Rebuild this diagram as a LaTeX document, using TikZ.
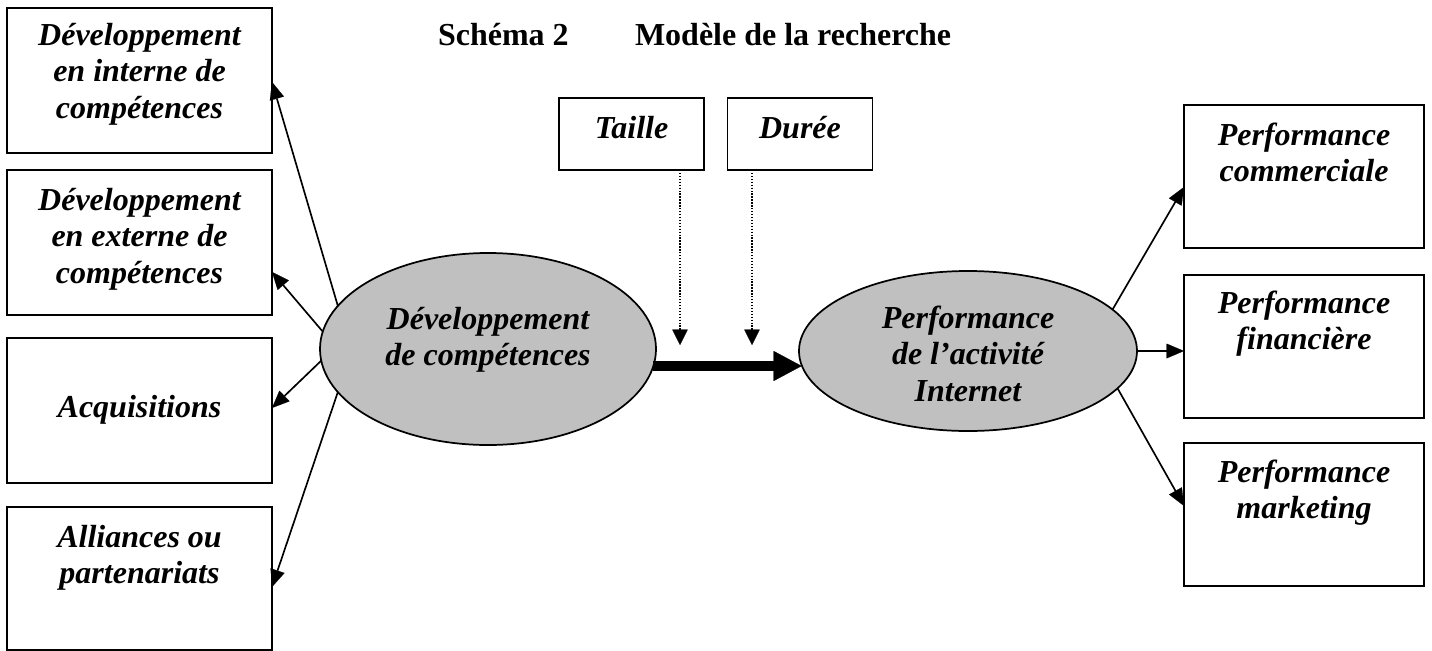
\documentclass[tikz,border=0pt]{standalone}
\usepackage{fontspec}
\setmainfont{Liberation Serif}
\usetikzlibrary{arrows.meta,shapes.geometric}
\definecolor{ellgray}{RGB}{192,192,192}
\newcommand{\mlines}[1]{\begin{tabular}[t]{@{}c@{}}#1\end{tabular}}
\begin{document}
\begin{tikzpicture}[x=0.75pt,y=-0.75pt,
  bx/.style={draw, line width=1.4pt, inner sep=0pt, outer sep=0pt},
  ell/.style={ellipse, draw, fill=ellgray, line width=1.3pt, inner sep=0pt, outer sep=0pt},
  txt/.style={anchor=base, inner sep=0pt, outer sep=0pt, font=\fontsize{24}{27.4}\selectfont\bfseries\itshape},
  ttl/.style={anchor=base west, inner sep=0pt, outer sep=0pt, font=\fontsize{24}{27.4}\selectfont\bfseries},
  arr/.style={line width=1.25pt, -{Triangle[length=13pt,width=11pt,line width=0.1pt]}},
  dotarr/.style={line width=1.1pt, dash pattern=on 1pt off 1.2pt, -{Triangle[length=11.5pt,width=11.5pt,line width=0.1pt]}},
  bigarr/.style={line width=7.5pt, -{Triangle[length=21pt,width=22.5pt,line width=0.1pt]}}
]
\useasboundingbox (0,0) rectangle (1432,650);

% title
\node[ttl] (t1) at (438,45) {Schéma 2};
\node[ttl] (t2) at (635,45) {Modèle de la recherche};

% left boxes
\node[bx, minimum width=198.75pt, minimum height=108.75pt] (b1) at (139.5,80.5) {};
\node[bx, minimum width=198.75pt, minimum height=108.75pt] (b2) at (139.5,242.5) {};
\node[bx, minimum width=198.75pt, minimum height=108.75pt] (b3) at (139.5,410.5) {};
\node[bx, minimum width=198.75pt, minimum height=107.25pt] (b4) at (139.5,578.5) {};
\node[txt] (b1t) at (139.5,45) {\mlines{Développement\\en interne de\\compétences}};
\node[txt] (b2t) at (139.5,210) {\mlines{Développement\\en externe de\\compétences}};
\node[txt] (b3t) at (139.5,417) {Acquisitions};
\node[txt] (b4t) at (139.5,547) {\mlines{Alliances ou\\partenariats}};

% top boxes
\node[bx, minimum width=108.75pt, minimum height=54pt] (ta) at (631.5,134) {};
\node[bx, minimum width=108.75pt, minimum height=54pt] (du) at (800,134) {};
\node[txt] (tat) at (631.5,138) {Taille};
\node[txt] (dut) at (800,138) {Durée};

% right boxes
\node[bx, minimum width=180pt, minimum height=107.25pt] (rb1) at (1304,176.5) {};
\node[bx, minimum width=180pt, minimum height=107.25pt] (rb2) at (1304,346.5) {};
\node[bx, minimum width=180pt, minimum height=107.25pt] (rb3) at (1304,514.5) {};
\node[txt] (rb1t) at (1304,145) {\mlines{Performance\\commerciale}};
\node[txt] (rb2t) at (1304,313) {\mlines{Performance\\financière}};
\node[txt] (rb3t) at (1304,482) {\mlines{Performance\\marketing}};

% ellipses
\node[ell, minimum width=252pt, minimum height=144pt] (e1) at (488,349) {};
\node[ell, minimum width=253.5pt, minimum height=120pt] (e2) at (968,351) {};
\node[txt] (e1t) at (488,329) {\mlines{Développement\\de compétences}};
\node[txt] (e2t) at (968,328) {\mlines{Performance\\de l’activité\\Internet}};

% left arrows
\draw[arr] (e1.164.2) -- ([yshift=-1.1pt]b1.east);
\draw[arr] (e1.174.2) -- ([yshift=-22.1pt]b2.east);
\draw[arr] (e1.184.8) -- ([yshift=1.9pt]b3.east);
\draw[arr] (e1.196.8) -- ([yshift=-6.4pt]b4.east);

% right arrows
\draw[arr] (e2.16.3) -- ([yshift=-7.9pt]rb1.west);
\draw[arr] (e2.east) -- (e2.east -| rb2.west);
\draw[arr] (e2.-14.9) -- ([yshift=6.4pt]rb3.west);

% main arrow
\coordinate (ms) at (728,366);
\draw[bigarr] ([xshift=-2.3pt]e1.east |- ms) -- ([xshift=2pt]e2.west |- ms);

% moderators
\coordinate (d1) at (680,345);
\coordinate (d2) at (752,345);
\draw[dotarr] (ta.south -| d1) -- (d1);
\draw[dotarr] (du.south -| d2) -- (d2);
\end{tikzpicture}
\end{document}
